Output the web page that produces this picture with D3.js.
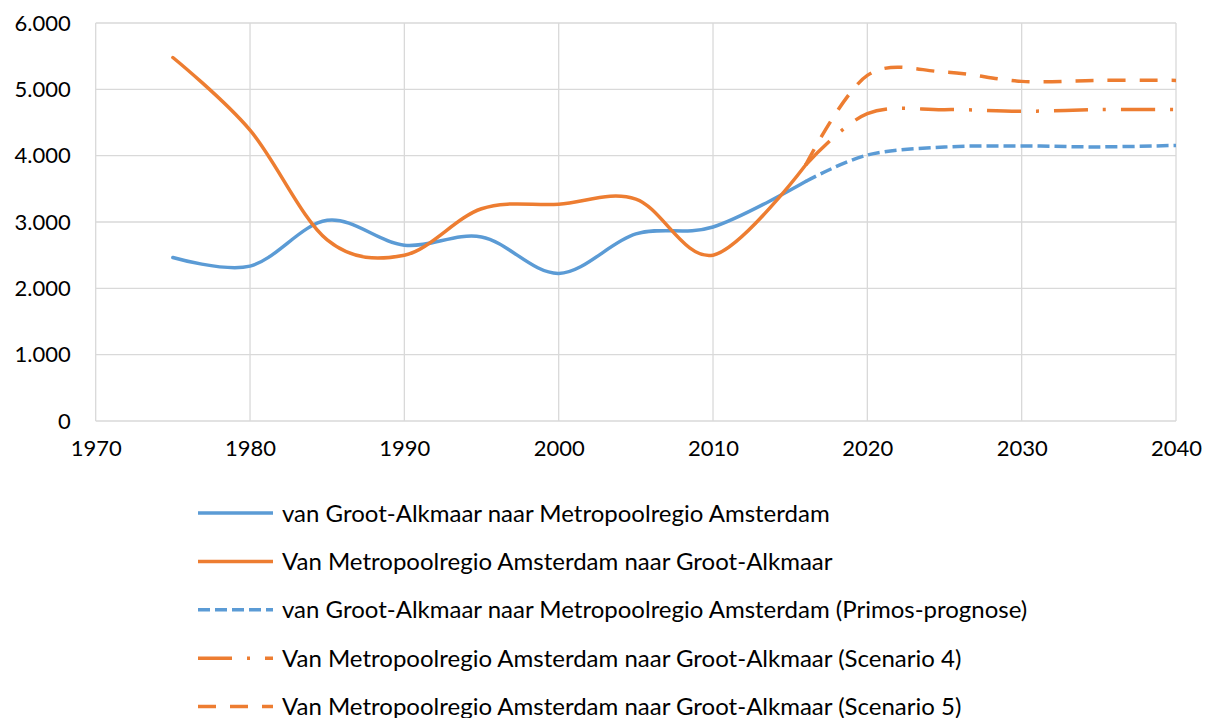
<!DOCTYPE html>
<html><head><meta charset="utf-8">
<script src="https://cdn.jsdelivr.net/npm/d3@7"></script>
<style>body{margin:0;background:#fff}svg{display:block}text{font-family:Lato,"Open Sans",sans-serif;fill:#000}</style>
</head><body><svg id="c" width="1205" height="718"></svg>
<script>
const yearsHist = [1975,1980,1985,1990,1995,2000,2005,2010,2016];
const ga2mra = [2465,2335,3025,2650,2775,2225,2820,2925,3610];
const mra2ga = [5480,4385,2730,2500,3200,3268,3345,2500,3860];
const yearsProg = [2016,2020,2025,2030,2035,2040];
const primos = [3610,4010,4130,4146,4132,4155];
const scen4 = [3860,4634,4694,4669,4694,4694];
const scen5 = [3860,5210,5262,5120,5135,5135];
const xTicks = [1970,1980,1990,2000,2010,2020,2030,2040];
const yTicks = [0,1000,2000,3000,4000,5000,6000];
const seriesNames = [
 "van Groot-Alkmaar naar Metropoolregio Amsterdam",
 "Van Metropoolregio Amsterdam naar Groot-Alkmaar",
 "van Groot-Alkmaar naar Metropoolregio Amsterdam (Primos-prognose)",
 "Van Metropoolregio Amsterdam naar Groot-Alkmaar (Scenario 4)",
 "Van Metropoolregio Amsterdam naar Groot-Alkmaar (Scenario 5)"
];

const blue="#5B9BD5", orange="#ED7D31";
const styles = [
 {c:blue, d:null},
 {c:orange, d:null},
 {c:blue, d:"12,5"},
 {c:orange, d:"34,15,3,15"},
 {c:orange, d:"18,14"}
];
const seriesData = [
 [yearsHist, ga2mra],[yearsHist, mra2ga],[yearsProg, primos],[yearsProg, scen4],[yearsProg, scen5]
];

const svg = d3.select("#c");
const x = d3.scaleLinear().domain([1970,2040]).range([95.7,1176]);
const y = d3.scaleLinear().domain([0,6000]).range([421,23]);
const loc = d3.formatLocale({decimal:",",thousands:".",grouping:[3],currency:["",""]});
const fmt = loc.format(",d");

const g = svg.append("g");
g.selectAll(".hg").data(yTicks).join("line")
 .attr("x1",x(1970)).attr("x2",x(2040)).attr("y1",d=>y(d)).attr("y2",d=>y(d))
 .attr("stroke","#d9d9d9").attr("stroke-width",1.3);
g.selectAll(".vg").data(xTicks).join("line")
 .attr("y1",y(0)).attr("y2",y(6000)).attr("x1",d=>x(d)).attr("x2",d=>x(d))
 .attr("stroke","#d9d9d9").attr("stroke-width",1.3);

const yAxis = d3.axisLeft(y).tickValues(yTicks).tickFormat(d=>d===0?"0":fmt(d)).tickSize(0).tickPadding(25);
const ya = svg.append("g").attr("transform",`translate(${x(1970)},0)`).call(yAxis);
ya.select(".domain").remove();
ya.selectAll("text").style("font-size","22px").style("font-family","Lato").attr("fill","#000");
const xAxis = d3.axisBottom(x).tickValues(xTicks).tickFormat(d3.format("d")).tickSize(0).tickPadding(19);
const xa = svg.append("g").attr("transform",`translate(0,${y(0)})`).call(xAxis);
xa.select(".domain").remove();
xa.selectAll("text").style("font-size","22px").style("font-family","Lato").attr("fill","#000");

const line = d3.line().curve(d3.curveCardinal.tension(0));
seriesData.forEach((s,i)=>{
  const pts = s[0].map((yr,j)=>[x(yr),y(s[1][j])]);
  svg.append("path").attr("d",line(pts)).attr("fill","none")
   .attr("stroke",styles[i].c).attr("stroke-width",3.5)
   .attr("stroke-dasharray",styles[i].d).attr("stroke-linecap",styles[i].d?"butt":"round");
});

const leg = svg.append("g");
seriesNames.forEach((n,i)=>{
  const ly = 513 + i*48.4;
  leg.append("line").attr("x1",198).attr("x2",273).attr("y1",ly).attr("y2",ly)
   .attr("stroke",styles[i].c).attr("stroke-width",3.5).attr("stroke-dasharray",styles[i].d);
  leg.append("text").attr("x",282).attr("y",ly+8.5).style("font-size","24px").text(n);
});
</script></body></html>
